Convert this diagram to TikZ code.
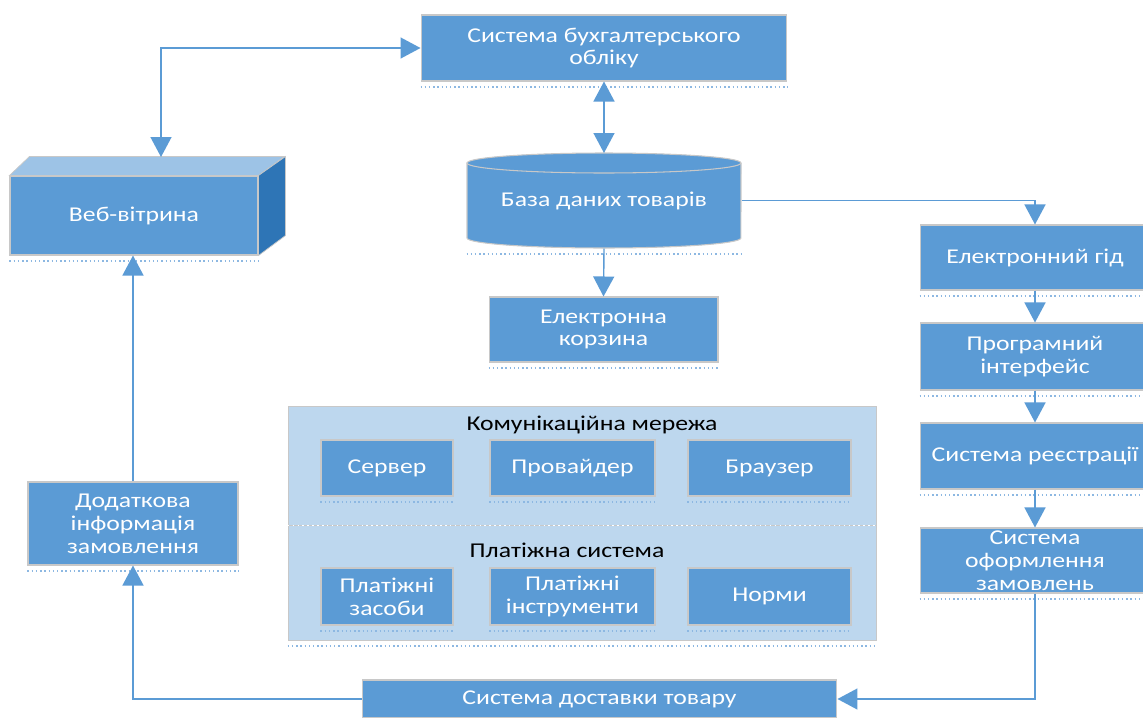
\documentclass[tikz,border=0pt]{standalone}
\usepackage{fontspec}
\setmainfont{Carlito}[FakeStretch=1.22]
\usetikzlibrary{arrows.meta}
\definecolor{boxblue}{HTML}{5B9BD5}
\definecolor{panelblue}{HTML}{BDD7EE}
\definecolor{topblue}{HTML}{9DC3E6}
\definecolor{sideblue}{HTML}{2E75B6}
\definecolor{edgegrey}{HTML}{C8C8C8}
\definecolor{dotblue}{HTML}{8DB8E2}
\begin{document}
\begin{tikzpicture}[x=0.02cm,y=-0.02cm,
  shadowline/.style={draw=dotblue, line width=1.2pt, dash pattern=on 0.8pt off 1.6pt},
  box/.style={rectangle, fill=boxblue, draw=edgegrey, line width=0.6pt, text=white,
    align=center, font=\fontsize{12}{13}\selectfont, inner sep=0pt,
    append after command={
      ([yshift=-3pt]\tikzlastnode.south west) edge[shadowline] ([yshift=-3pt]\tikzlastnode.south east)
    }},
  panel/.style={rectangle, fill=panelblue, draw=edgegrey, line width=0.4pt, inner sep=0pt},
  ptitle/.style={text=black, font=\fontsize{12}{13}\selectfont},
  tip/.tip={Triangle[width=0.42cm,length=0.4cm]},
  arr/.style={draw=boxblue, fill=none, line width=0.8pt, -tip},
  darr/.style={draw=boxblue, fill=none, line width=0.8pt, tip-tip},
]
\useasboundingbox (0,0) rectangle (1143,717);
\fill[white] (0,0) rectangle (1143,717);

% top accounting system
\node[box, minimum width=7.32cm, minimum height=1.32cm] (bk) at (604,48)
  {Система бухгалтерського\\обліку};

% web showcase (3D box)
\node[box, minimum width=4.96cm, minimum height=1.58cm] (web) at (134,215.5) {Веб-вітрина};
\fill[topblue, draw=edgegrey, line width=0.4pt] (web.north west) -- ++(20,-19) -- ++(255,0) -- (web.north east) -- cycle;
\fill[sideblue, draw=edgegrey, line width=0.4pt] (web.north east) -- ++(27,-19) -- ++(0,79) -- (web.south east) -- cycle;
\coordinate (webtop) at (161,157);

% database cylinder
\fill[boxblue, draw=edgegrey, line width=0.6pt]
  (467,163) -- (467,238) arc[start angle=180, end angle=360, x radius=2.74cm, y radius=0.2cm]
  -- (741,163) arc[start angle=0, end angle=180, x radius=2.74cm, y radius=0.2cm] -- cycle;
\draw[edgegrey, line width=0.6pt] (467,163) arc[start angle=180, end angle=360, x radius=2.74cm, y radius=0.2cm];
\node[box, fill=none, draw=none, minimum width=5.48cm, minimum height=1.9cm] (db) at (604,200.5) {База даних товарів};

% basket
\node[box, minimum width=4.58cm, minimum height=1.3cm] (korz) at (603.5,329.5) {Електронна\\корзина};

% right column
\node[box, minimum width=4.6cm, minimum height=1.3cm] (egid) at (1035,257.5) {Електронний гід};
\node[box, minimum width=4.6cm, minimum height=1.34cm] (prog) at (1035,356.5) {Програмний\\інтерфейс};
\node[box, minimum width=4.6cm, minimum height=1.32cm] (reg) at (1035,456) {Система реєстрації};
\node[box, minimum width=4.6cm, minimum height=1.3cm] (oform) at (1035,560.5) {Система\\оформлення\\замовлень};

% delivery
\node[box, minimum width=9.5cm, minimum height=0.76cm] (dost) at (599.5,699) {Система доставки товару};

% additional info
\node[box, minimum width=4.2cm, minimum height=1.66cm] (dod) at (133,523.5) {Додаткова\\інформація\\замовлення};

% panel
\node[panel, minimum width=11.76cm, minimum height=2.38cm] (p1) at (582,465.5) {};
\node[panel, minimum width=11.76cm, minimum height=2.3cm] (p2) at (582,582.5) {};
\draw[white, line width=0.8pt, dotted] (p1.south west) -- (p1.south east);
\draw[shadowline] ([yshift=-3pt]p2.south west) -- ([yshift=-3pt]p2.south east);
\node[ptitle] (t1) at (592,425) {Комунікаційна мережа};
\node[ptitle] (t2) at (567,550) {Платіжна система};

\node[box, minimum width=2.64cm, minimum height=1.12cm] (serv) at (387,468) {Сервер};
\node[box, minimum width=3.3cm, minimum height=1.12cm] (prov) at (572.5,468) {Провайдер};
\node[box, minimum width=3.26cm, minimum height=1.12cm] (brow) at (769.5,468) {Браузер};
\node[box, minimum width=2.64cm, minimum height=1.14cm] (pz) at (387,596.5) {Платіжні\\засоби};
\node[box, minimum width=3.3cm, minimum height=1.14cm] (pi) at (572.5,596.5) {Платіжні\\інструменти};
\node[box, minimum width=3.26cm, minimum height=1.14cm] (norm) at (769.5,596.5) {Норми};

% connectors
\draw[darr] (webtop) |- (bk.west);
\draw[darr] (bk.south) -- (604,153);
\draw[arr] (db.south) -- (korz.north);
\draw[arr] (db.east) -| (egid.north);
\draw[arr] (egid.south) -- (prog.north);
\draw[arr] (prog.south) -- (reg.north);
\draw[arr] (reg.south) -- (oform.north);
\draw[arr] (oform.south) |- (dost.east);
\draw[arr] (dost.west) -| (dod.south);
\draw[arr] (dod.north) -- (dod.north |- web.south);
\end{tikzpicture}
\end{document}
